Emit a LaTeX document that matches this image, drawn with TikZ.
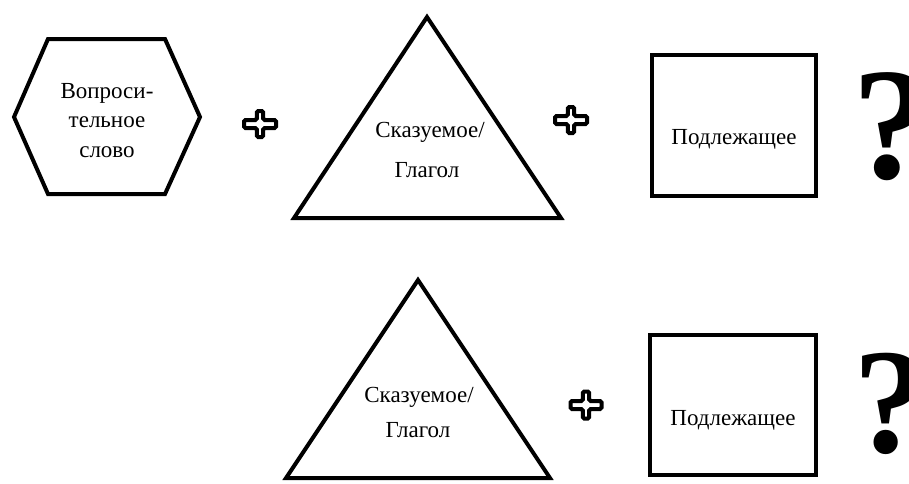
\documentclass[tikz,border=0pt]{standalone}
\usepackage{fontspec}
\setmainfont{Liberation Serif}
\newfontfamily\tnr{Liberation Serif}
\newcommand\lbl[1]{{\tnr\fontsize{23}{27}\selectfont #1}}
\newcommand\qm[1]{{\tnr\fontsize{#1}{#1}\selectfont\bfseries ?}}
\newcommand\crossshape[4]{%
  \draw[plusline] ({#1-#3},{#2-4}) -- ({#1-3.2},{#2-4}) -- ({#1-3.2},{#2-#4}) -- ({#1+3.2},{#2-#4}) -- ({#1+3.2},{#2-4}) -- ({#1+#3},{#2-4}) -- ({#1+#3},{#2+4}) -- ({#1+3.2},{#2+4}) -- ({#1+3.2},{#2+#4}) -- ({#1-3.2},{#2+#4}) -- ({#1-3.2},{#2+4}) -- ({#1-#3},{#2+4}) -- cycle;}
\begin{document}
\begin{tikzpicture}[x=1pt,y=-1pt,
  shapeline/.style={line width=4pt, line join=miter},
  plusline/.style={line width=4pt, rounded corners=1.5pt},
  txt/.style={inner sep=0pt, anchor=base},
  qmark/.style={inner sep=0pt, anchor=base west}]
\useasboundingbox (0,0) rectangle (909,483);
\clip (0,0) rectangle (909,483);
% hexagon
\draw[shapeline] (14,117) -- (48,39) -- (165,39) -- (200,117) -- (165,194) -- (48,194) -- cycle;
\node[txt] (h1) at (107,98) {\lbl{Вопроси-}};
\node[txt] (h2) at (107,127) {\lbl{тельное}};
\node[txt] (h3) at (107,157) {\lbl{слово}};
% plus 1
\crossshape{260}{124}{16}{13}
% triangle 1
\draw[shapeline] (427,17) -- (561,218) -- (294,218) -- cycle;
\node[txt] (t1a) at (430,137) {\lbl{Сказуемое/}};
\node[txt] (t1b) at (427,177) {\lbl{Глагол}};
% plus 2
\crossshape{571}{120}{16}{13}
% box 1
\draw[shapeline] (652,55) rectangle (816,196);
\node[txt] (b1) at (734,144) {\lbl{Подлежащее}};
% question 1
\node[qmark] (q1) at (852,178) {\qm{160}};
% triangle 2
\draw[shapeline] (418,280) -- (550,478) -- (286,478) -- cycle;
\node[txt] (t2a) at (419,402) {\lbl{Сказуемое/}};
\node[txt] (t2b) at (418,437) {\lbl{Глагол}};
% plus 3
\crossshape{586}{405}{15.5}{13.5}
% box 2
\draw[shapeline] (650,335) rectangle (816,475);
\node[txt] (b2) at (733,425) {\lbl{Подлежащее}};
% question 2
\node[qmark] (q2) at (853,452) {\qm{150}};
\end{tikzpicture}
\end{document}
